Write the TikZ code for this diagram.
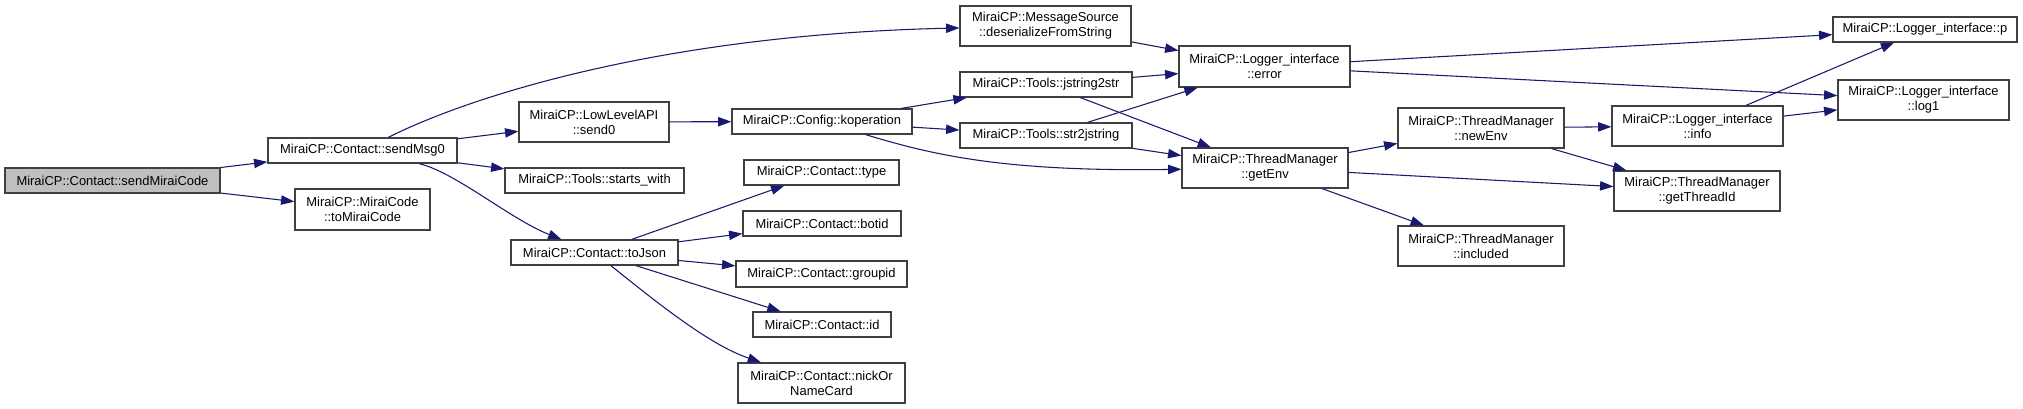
\documentclass[tikz,border=0pt]{standalone}
\usepackage{fontspec}
\setmainfont{Liberation Sans}
\usetikzlibrary{arrows.meta}
\definecolor{edge}{RGB}{25,25,112}
\definecolor{boxline}{RGB}{64,64,64}
\definecolor{rootfill}{RGB}{191,191,191}
\tikzset{
  fn/.style 2 args={draw=boxline, line width=0.9pt, fill=white, align=center,
                    font=\fontsize{9.7}{11.25}\selectfont, inner sep=1pt,
                    minimum width=#1*0.75pt, minimum height=#2*0.75pt},
  rootfn/.style 2 args={fn={#1}{#2}, fill=rootfill},
  call/.style={-{Triangle[length=10pt,width=7pt]}, color=edge, line width=0.8pt},
}
\begin{document}
\begin{tikzpicture}[x=0.75pt, y=-0.75pt]
  \useasboundingbox (0,0) rectangle (2023,409);
  \fill[white] (0,0) rectangle (2023,409);

  \node[rootfn={215}{25}] (smc) at (112.5,180.5) {MiraiCP::Contact::sendMiraiCode};
  \node[fn={189}{25}] (msg0) at (362.5,150.5) {MiraiCP::Contact::sendMsg0};
  \node[fn={135}{41}] (tomc) at (362.5,209.5) {MiraiCP::MiraiCode\\::toMiraiCode};
  \node[fn={150}{40}] (send0) at (594,122) {MiraiCP::LowLevelAPI\\::send0};
  \node[fn={179}{25}] (sw) at (594.5,180.5) {MiraiCP::Tools::starts\_with};
  \node[fn={167}{25}] (tojson) at (594.5,252.5) {MiraiCP::Contact::toJson};
  \node[fn={180}{25}] (kop) at (822,121.5) {MiraiCP::Config::koperation};
  \node[fn={155}{25}] (type) at (821.5,172.5) {MiraiCP::Contact::type};
  \node[fn={158}{25}] (botid) at (822,223.5) {MiraiCP::Contact::botid};
  \node[fn={171}{26}] (gid) at (821.5,274) {MiraiCP::Contact::groupid};
  \node[fn={138}{25}] (cid) at (822,324.5) {MiraiCP::Contact::id};
  \node[fn={167}{40}] (nick) at (821.5,383) {MiraiCP::Contact::nickOr\\NameCard};
  \node[fn={171}{40}] (deser) at (1045.5,26) {MiraiCP::MessageSource\\::deserializeFromString};
  \node[fn={172}{25}] (j2s) at (1046,84.5) {MiraiCP::Tools::jstring2str};
  \node[fn={172}{25}] (s2j) at (1046,135.5) {MiraiCP::Tools::str2jstring};
  \node[fn={171}{41}] (err) at (1264.5,66.5) {MiraiCP::Logger\_interface\\::error};
  \node[fn={166}{40}] (env) at (1265,168) {MiraiCP::ThreadManager\\::getEnv};
  \node[fn={166}{40}] (newenv) at (1481,128) {MiraiCP::ThreadManager\\::newEnv};
  \node[fn={166}{40}] (incl) at (1481,246) {MiraiCP::ThreadManager\\::included};
  \node[fn={171}{40}] (info) at (1697.5,126) {MiraiCP::Logger\_interface\\::info};
  \node[fn={166}{40}] (tid) at (1697,191) {MiraiCP::ThreadManager\\::getThreadId};
  \node[fn={184}{25}] (lp) at (1925,29.5) {MiraiCP::Logger\_interface::p};
  \node[fn={171}{40}] (log1) at (1923.5,100) {MiraiCP::Logger\_interface\\::log1};

  \foreach \a/\b in {smc/msg0, smc/tomc, msg0/send0, msg0/sw, send0/kop,
                     kop/j2s, kop/s2j, deser/err, j2s/err, j2s/env, s2j/err, s2j/env,
                     err/lp, err/log1, env/newenv, env/tid, env/incl,
                     newenv/info, newenv/tid, info/lp, info/log1,
                     tojson/type, tojson/botid, tojson/gid, tojson/cid}
    \draw[call] (\a) -- (\b);

  \draw[call] (msg0) .. controls (460,101) and (650,35) .. (deser);
  \draw[call] (msg0) .. controls (455,172) and (510,219) .. (tojson);
  \draw[call] (kop) .. controls (930,154) and (1000,172) .. (env);
  \draw[call] (tojson) .. controls (660,305) and (710,345) .. (nick);
\end{tikzpicture}
\end{document}
